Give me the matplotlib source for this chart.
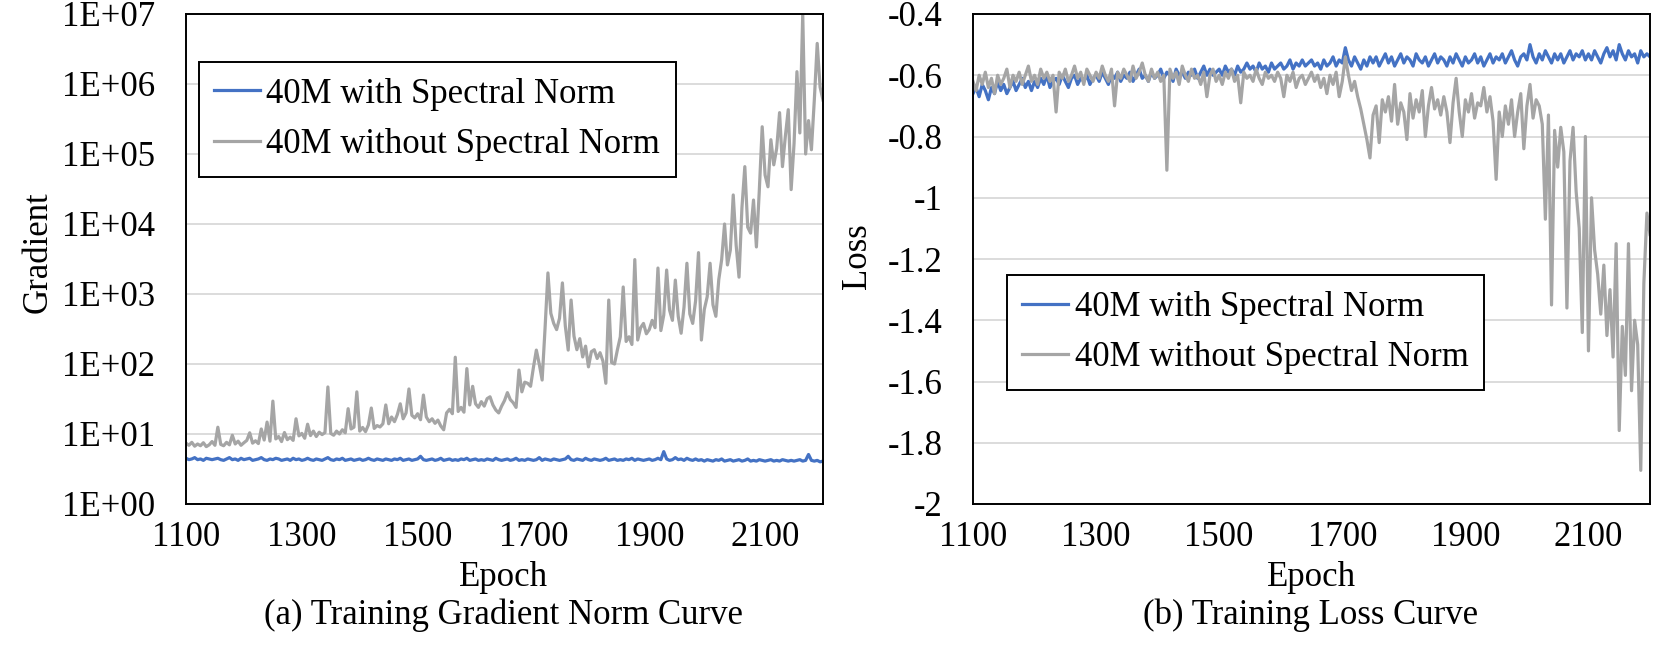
import numpy as np
import matplotlib
matplotlib.use('Agg')
import matplotlib.pyplot as plt
from matplotlib.ticker import FixedLocator, FuncFormatter, NullLocator

# epochs sampled every 5
epochs = list(range(1100, 2201, 5))

gradWith = [
    4.5, 4.3, 4.4, 4.6, 4.3, 4.4, 4.2, 4.5, 4.4, 4.3,
    4.4, 4.5, 4.3, 4.2, 4.4, 4.6, 4.3, 4.4, 4.2, 4.5,
    4.3, 4.4, 4.5, 4.2, 4.3, 4.4, 4.6, 4.3, 4.2, 4.4,
    4.3, 4.5, 4.4, 4.2, 4.3, 4.4, 4.2, 4.5, 4.3, 4.4,
    4.2, 4.3, 4.5, 4.3, 4.2, 4.4, 4.3, 4.2, 4.4, 4.6,
    4.3, 4.2, 4.4, 4.3, 4.5, 4.2, 4.3, 4.4, 4.2, 4.3,
    4.4, 4.2, 4.3, 4.5, 4.3, 4.2, 4.4, 4.3, 4.2, 4.4,
    4.3, 4.2, 4.4, 4.3, 4.5, 4.2, 4.3, 4.4, 4.2, 4.3,
    4.4, 4.8, 4.3, 4.2, 4.3, 4.4, 4.2, 4.3, 4.5, 4.2,
    4.3, 4.4, 4.2, 4.3, 4.2, 4.4, 4.3, 4.5, 4.2, 4.3,
    4.4, 4.2, 4.3, 4.2, 4.4, 4.3, 4.2, 4.5, 4.3, 4.2,
    4.3, 4.4, 4.2, 4.3, 4.5, 4.2, 4.3, 4.2, 4.4, 4.3,
    4.2, 4.3, 4.6, 4.2, 4.4, 4.3, 4.2, 4.4, 4.3, 4.2,
    4.3, 4.4, 4.8, 4.3, 4.2, 4.4, 4.3, 4.2, 4.5, 4.3,
    4.2, 4.4, 4.3, 4.2, 4.3, 4.5, 4.2, 4.3, 4.4, 4.2,
    4.3, 4.2, 4.4, 4.3, 4.5, 4.2, 4.4, 4.3, 4.2, 4.3,
    4.4, 4.2, 4.3, 4.5, 4.3, 5.6, 4.4, 4.2, 4.3, 4.6,
    4.3, 4.4, 4.2, 4.5, 4.3, 4.2, 4.4, 4.2, 4.3, 4.1,
    4.3, 4.2, 4.1, 4.3, 4.2, 4.4, 4.1, 4.2, 4.3, 4.1,
    4.2, 4.3, 4.1, 4.2, 4.4, 4.1, 4.2, 4.1, 4.3, 4.2,
    4.1, 4.2, 4.3, 4.1, 4.2, 4.1, 4.3, 4.2, 4.1, 4.2,
    4.1, 4.2, 4.3, 4.1, 4.2, 5.1, 4.2, 4.1, 4.2, 4.0,
    4.1]

gradWithout = [
    7.4, 6.9, 7.6, 6.7, 7.2, 6.8, 7.5, 6.6, 7.0, 7.8,
    6.9, 12.5, 7.1, 6.8, 7.6, 7.0, 9.6, 7.2, 7.9, 6.9,
    7.5, 8.1, 10.4, 7.4, 8.0, 7.3, 11.8, 8.2, 14.8, 7.9,
    29.5, 8.5, 9.2, 7.8, 10.5, 8.3, 9.0, 8.1, 16.5, 9.4,
    10.2, 8.7, 13.8, 9.5, 11.0, 9.2, 10.6, 9.8, 10.5, 47.0,
    10.2, 9.6, 11.0, 10.0, 11.5, 10.4, 23.0, 11.8, 12.5, 40.0,
    11.0, 12.4, 10.8, 13.5, 23.5, 12.0, 13.2, 12.6, 14.0, 26.0,
    14.0, 17.5, 15.0, 19.0, 27.0, 16.5, 20.0, 44.0, 18.5, 17.0,
    19.5, 16.0, 36.0, 17.5, 15.0, 16.5, 14.2, 15.8, 13.0, 11.5,
    20.0, 22.5, 19.5, 125.0, 21.0, 24.0, 20.5, 86.0, 26.0, 48.0,
    27.0, 24.0, 29.0, 25.0, 32.0, 34.0, 26.0, 22.0, 20.0, 25.0,
    30.0, 39.0, 31.0, 28.0, 24.0, 82.0, 40.0, 55.0, 53.0, 48.0,
    90.0, 158.0, 100.0, 59.0, 320.0, 2000.0, 530.0, 380.0, 310.0, 450.0,
    1440.0, 350.0, 158.0, 820.0, 250.0, 160.0, 230.0, 126.0, 180.0, 91.0,
    150.0, 160.0, 120.0, 145.0, 110.0, 53.0, 820.0, 105.0, 100.0, 160.0,
    245.0, 1260.0, 210.0, 245.0, 190.0, 3100.0, 220.0, 330.0, 380.0, 270.0,
    310.0, 420.0, 330.0, 2350.0, 300.0, 500.0, 2200.0, 590.0, 420.0, 1580.0,
    480.0, 275.0, 650.0, 2750.0, 520.0, 380.0, 800.0, 3900.0, 220.0, 600.0,
    910.0, 2750.0, 700.0, 480.0, 1600.0, 3100.0, 1.0e4, 2600.0, 4250.0, 2.6e4,
    5000.0, 1740.0, 1.7e4, 6.6e4, 9000.0, 7400.0, 2.2e4, 4700.0, 3.0e4, 2.45e5,
    5.0e4, 3.4e4, 1.6e5, 7.0e4, 1.2e5, 3.9e5, 6.6e4, 1.8e5, 4.3e5, 3.1e4,
    1.4e5, 1.5e6, 2.0e5, 1.0e7, 1.0e5, 3.0e5, 1.15e5, 5.9e5, 3.8e6, 9.0e5,
    5.9e5]

lossWith = [
    -0.66, -0.64, -0.67, -0.63, -0.65, -0.68, -0.64, -0.66, -0.62, -0.65,
    -0.63, -0.66, -0.64, -0.62, -0.65, -0.63, -0.61, -0.64, -0.62, -0.65,
    -0.62, -0.64, -0.61, -0.63, -0.60, -0.64, -0.62, -0.61, -0.63, -0.60,
    -0.62, -0.64, -0.61, -0.60, -0.63, -0.61, -0.62, -0.60, -0.63, -0.61,
    -0.60, -0.62, -0.59, -0.61, -0.63, -0.60, -0.61, -0.59, -0.62, -0.60,
    -0.61, -0.59, -0.62, -0.60, -0.58, -0.61, -0.60, -0.62, -0.59, -0.61,
    -0.60, -0.58, -0.61, -0.59, -0.60, -0.62, -0.58, -0.60, -0.59, -0.61,
    -0.59, -0.60, -0.58, -0.61, -0.59, -0.57, -0.60, -0.58, -0.60, -0.59,
    -0.58, -0.60, -0.57, -0.59, -0.58, -0.60, -0.57, -0.59, -0.58, -0.56,
    -0.58, -0.57, -0.59, -0.56, -0.58, -0.57, -0.59, -0.56, -0.58, -0.57,
    -0.56, -0.58, -0.57, -0.55, -0.58, -0.56, -0.57, -0.55, -0.57, -0.56,
    -0.55, -0.57, -0.56, -0.58, -0.55, -0.57, -0.56, -0.54, -0.57, -0.55,
    -0.56, -0.51, -0.55, -0.57, -0.54, -0.56, -0.58, -0.55, -0.57, -0.54,
    -0.56, -0.54, -0.57, -0.55, -0.53, -0.56, -0.54, -0.57, -0.55, -0.53,
    -0.56, -0.54, -0.55, -0.57, -0.53, -0.55, -0.56, -0.54, -0.57, -0.55,
    -0.53, -0.56, -0.54, -0.55, -0.57, -0.54, -0.56, -0.53, -0.55, -0.57,
    -0.54, -0.56, -0.55, -0.53, -0.56, -0.54, -0.57, -0.55, -0.53, -0.56,
    -0.54, -0.55, -0.53, -0.56, -0.54, -0.52, -0.55, -0.57, -0.54, -0.53,
    -0.55, -0.50, -0.54, -0.56, -0.53, -0.55, -0.52, -0.54, -0.56, -0.53,
    -0.55, -0.53, -0.56, -0.54, -0.52, -0.55, -0.53, -0.54, -0.52, -0.55,
    -0.53, -0.55, -0.52, -0.54, -0.56, -0.53, -0.51, -0.54, -0.52, -0.55,
    -0.50, -0.53, -0.55, -0.52, -0.54, -0.53, -0.56, -0.52, -0.54, -0.53,
    -0.54]

lossWithout = [
    -0.62, -0.65, -0.60, -0.63, -0.59, -0.64, -0.61, -0.66, -0.60, -0.63,
    -0.61, -0.58, -0.64, -0.60, -0.62, -0.59, -0.63, -0.60, -0.57, -0.62,
    -0.60, -0.63, -0.58, -0.61, -0.59, -0.62, -0.60, -0.72, -0.59, -0.61,
    -0.58, -0.62, -0.60, -0.57, -0.61, -0.59, -0.63, -0.58, -0.60, -0.62,
    -0.59, -0.61, -0.57, -0.60, -0.62, -0.58, -0.70, -0.59, -0.61, -0.58,
    -0.60, -0.62, -0.57, -0.61, -0.59, -0.56, -0.60, -0.62, -0.58, -0.61,
    -0.59, -0.62, -0.60, -0.91, -0.58, -0.61, -0.59, -0.63, -0.57, -0.60,
    -0.62, -0.58, -0.61, -0.60, -0.63, -0.59, -0.67, -0.60, -0.58, -0.62,
    -0.60, -0.63, -0.59, -0.61, -0.58, -0.62, -0.60, -0.69, -0.59, -0.61,
    -0.60, -0.62, -0.58, -0.61, -0.63, -0.59, -0.61, -0.60, -0.62, -0.59,
    -0.61, -0.67, -0.60, -0.62, -0.59, -0.64, -0.61, -0.60, -0.63, -0.61,
    -0.59, -0.62, -0.60, -0.64, -0.61, -0.66, -0.60, -0.63, -0.59, -0.67,
    -0.62, -0.54, -0.60, -0.65, -0.62, -0.67, -0.71, -0.76, -0.81, -0.87,
    -0.73, -0.70, -0.82, -0.68, -0.72, -0.67, -0.75, -0.63, -0.76, -0.69,
    -0.72, -0.81, -0.66, -0.74, -0.68, -0.72, -0.65, -0.80, -0.70, -0.64,
    -0.71, -0.68, -0.73, -0.67, -0.72, -0.82, -0.69, -0.61, -0.72, -0.80,
    -0.68, -0.72, -0.66, -0.74, -0.69, -0.70, -0.64, -0.72, -0.67, -0.75,
    -0.94, -0.72, -0.80, -0.70, -0.76, -0.68, -0.80, -0.72, -0.66, -0.84,
    -0.70, -0.63, -0.74, -0.68, -0.70, -0.76, -1.07, -0.73, -1.35, -0.78,
    -0.90, -0.77, -0.85, -1.36, -0.88, -0.77, -0.98, -1.10, -1.44, -0.80,
    -1.50, -1.00, -1.17, -1.25, -1.38, -1.22, -1.45, -1.30, -1.52, -1.15,
    -1.76, -1.42, -1.58, -1.15, -1.63, -1.40, -1.48, -1.89, -1.28, -1.05,
    -1.12]

xTicks = [1100, 1300, 1500, 1700, 1900, 2100]
gradTicks = [1e0, 1e1, 1e2, 1e3, 1e4, 1e5, 1e6, 1e7]
lossTicks = [-2.0, -1.8, -1.6, -1.4, -1.2, -1.0, -0.8, -0.6, -0.4]
labels = ['40M with Spectral Norm', '40M without Spectral Norm']

blue = '#4472C4'
gray = '#A5A5A5'
fontSize = 25
lineWidth = 2.3

plt.rcParams['font.family'] = ['Liberation Serif', 'DejaVu Serif']
plt.rcParams['font.size'] = fontSize

fig = plt.figure(figsize=(16.59, 6.54), dpi=100)
axGrad = fig.add_axes([186/1659, 150/654, 637/1659, 490/654])
axLoss = fig.add_axes([973/1659, 150/654, 677/1659, 490/654])


def style_axes(ax):
    for spine in ax.spines.values():
        spine.set_linewidth(1.4)
        spine.set_color('black')
    ax.grid(axis='y', color='#D9D9D9', linewidth=1.3)
    ax.set_axisbelow(True)
    ax.tick_params(axis='both', length=0, labelsize=fontSize)
    ax.tick_params(axis='y', pad=22)
    ax.tick_params(axis='x', pad=12)
    ax.set_xlim(1100, 2200)
    ax.xaxis.set_major_locator(FixedLocator(xTicks))
    ax.xaxis.set_minor_locator(NullLocator())


def add_legend(ax, anchor):
    leg = ax.legend(labels, loc='upper left', bbox_to_anchor=anchor,
                    borderaxespad=0, fancybox=False, framealpha=1,
                    edgecolor='black', fontsize=fontSize, handlelength=1.3,
                    handletextpad=0.2, borderpad=0.45, labelspacing=0.5)
    leg.get_frame().set_linewidth(1.4)


# (a) gradient norm
axGrad.plot(epochs, gradWith, color=blue, linewidth=lineWidth)
axGrad.plot(epochs, gradWithout, color=gray, linewidth=lineWidth)
axGrad.set_yscale('log')
axGrad.set_ylim(1, 1e7)
style_axes(axGrad)
axGrad.yaxis.set_major_locator(FixedLocator(gradTicks))
axGrad.yaxis.set_minor_locator(NullLocator())
axGrad.yaxis.set_major_formatter(
    FuncFormatter(lambda v, p: '1E+{:02d}'.format(int(round(np.log10(v))))))
add_legend(axGrad, (0.02, 0.902))

# (b) loss
axLoss.plot(epochs, lossWith, color=blue, linewidth=lineWidth)
axLoss.plot(epochs, lossWithout, color=gray, linewidth=lineWidth)
axLoss.set_ylim(-2, -0.4)
style_axes(axLoss)
axLoss.yaxis.set_major_locator(FixedLocator(lossTicks))
axLoss.yaxis.set_major_formatter(FuncFormatter(lambda v, p: '{:g}'.format(round(v, 1))))
add_legend(axLoss, (0.05, 0.467))

# axis titles and captions
fig.text(38/1659, 1 - 252/654, 'Gradient', rotation=90, ha='center', va='center')
fig.text(858/1659, 1 - 256/654, 'Loss', rotation=90, ha='center', va='center')
fig.text(504/1659, 1 - 586/654, 'Epoch', ha='center', va='baseline')
fig.text(1311/1659, 1 - 586/654, 'Epoch', ha='center', va='baseline')
fig.text(504/1659, 1 - 624/654, '(a) Training Gradient Norm Curve', ha='center', va='baseline')
fig.text(1311/1659, 1 - 624/654, '(b) Training Loss Curve', ha='center', va='baseline')

fig.savefig('out.png', dpi=100)
